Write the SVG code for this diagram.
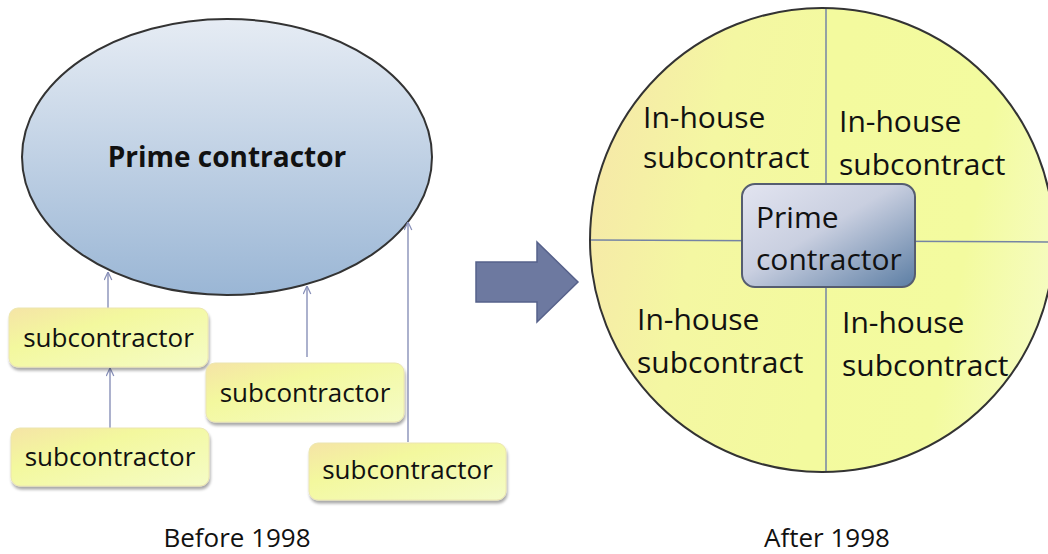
<svg xmlns="http://www.w3.org/2000/svg" width="1048" height="554" viewBox="0 0 1048 554">
  <defs>
    <linearGradient id="ellFill" x1="0" y1="0" x2="0" y2="1">
      <stop offset="0" stop-color="#e6ecf4"/>
      <stop offset="1" stop-color="#9ab6d5"/>
    </linearGradient>
    <linearGradient id="subFill" x1="0" y1="0" x2="1" y2="1">
      <stop offset="0" stop-color="#f5e4a6"/>
      <stop offset="0.35" stop-color="#f3f89e"/>
      <stop offset="1" stop-color="#f5fcc6"/>
    </linearGradient>
    <!-- left half: warm edge fading into yellow -->
    <linearGradient id="leftFill" x1="0" y1="0.3" x2="1" y2="0.7">
      <stop offset="0" stop-color="#f6e8a8"/>
      <stop offset="0.45" stop-color="#f4f7a2"/>
      <stop offset="1" stop-color="#f3fa9e"/>
    </linearGradient>
    <!-- right half: yellow brightening towards the rim -->
    <linearGradient id="rightFill" x1="0" y1="0.3" x2="1" y2="0.7">
      <stop offset="0" stop-color="#f3fa9e"/>
      <stop offset="0.6" stop-color="#f3fb9f"/>
      <stop offset="1" stop-color="#f6fcc4"/>
    </linearGradient>
    <linearGradient id="primeFill" x1="0" y1="0" x2="1" y2="1">
      <stop offset="0" stop-color="#e2e4f0"/>
      <stop offset="0.45" stop-color="#c9cfe0"/>
      <stop offset="1" stop-color="#5c7ea4"/>
    </linearGradient>
    <clipPath id="pieClip">
      <circle cx="822" cy="240" r="232"/>
    </clipPath>
    <filter id="shadow" x="-10%" y="-10%" width="125%" height="140%">
      <feGaussianBlur in="SourceAlpha" stdDeviation="1.5"/>
      <feOffset dx="1" dy="3" result="b"/>
      <feComponentTransfer><feFuncA type="linear" slope="0.35"/></feComponentTransfer>
      <feMerge><feMergeNode/><feMergeNode in="SourceGraphic"/></feMerge>
    </filter>
    <marker id="openArrow" viewBox="0 0 10 10" refX="10" refY="5" markerWidth="9" markerHeight="9" markerUnits="userSpaceOnUse" orient="auto">
      <path d="M1,0.8 L10,5 L1,9.2" fill="none" stroke="#8890b8" stroke-width="1.4"/>
    </marker>
  </defs>
  <style>
    .lbl { font-family: "Open Sans", "Liberation Sans", sans-serif; fill: #111; }
    .sub { fill: url(#subFill); stroke: #ece6b0; stroke-width: 1; filter: url(#shadow); }
    .sublbl { font-size: 26px; text-anchor: middle; }
    .quad { font-size: 30px; }
    .conn { stroke: #8890b8; stroke-width: 1.4; fill: none; marker-end: url(#openArrow); }
    .split { stroke: #7584a4; stroke-width: 1.5; }
  </style>

  <!-- Left: hierarchy before 1998 -->
  <g id="prime-ellipse">
    <ellipse cx="227" cy="157" rx="205" ry="138" fill="url(#ellFill)" stroke="#333" stroke-width="2"/>
    <text class="lbl" x="227" y="167" font-size="28" font-weight="bold" text-anchor="middle">Prime contractor</text>
  </g>

  <g id="connectors">
    <line class="conn" x1="110" y1="428" x2="110" y2="368"/>
    <line class="conn" x1="108" y1="308" x2="108" y2="272"/>
    <line class="conn" x1="307" y1="357" x2="307" y2="286"/>
    <line class="conn" x1="408" y1="442" x2="408" y2="222"/>
  </g>

  <g id="sub1">
    <rect class="sub" x="9" y="308" width="199" height="59" rx="9"/>
    <text class="lbl sublbl" x="108.5" y="347">subcontractor</text>
  </g>
  <g id="sub2">
    <rect class="sub" x="11" y="428" width="198" height="58" rx="9"/>
    <text class="lbl sublbl" x="110" y="466">subcontractor</text>
  </g>
  <g id="sub3">
    <rect class="sub" x="206" y="363" width="198" height="59" rx="9"/>
    <text class="lbl sublbl" x="305" y="402">subcontractor</text>
  </g>
  <g id="sub4">
    <rect class="sub" x="309" y="443" width="197" height="57" rx="9"/>
    <text class="lbl sublbl" x="407.5" y="479">subcontractor</text>
  </g>

  <text id="before" class="lbl" x="237" y="547" font-size="26" text-anchor="middle">Before 1998</text>

  <!-- Transition arrow -->
  <g id="transition-arrow">
    <polygon points="476,262 537,262 537,242 578,282 537,322 537,302 476,302" fill="#6d79a0" stroke="#56618a" stroke-width="1.5"/>
  </g>

  <!-- Right: in-house structure after 1998 -->
  <g id="inhouse-circle">
    <g clip-path="url(#pieClip)">
      <rect x="589" y="7" width="237" height="466" fill="url(#leftFill)"/>
      <rect x="826" y="7" width="230" height="466" fill="url(#rightFill)"/>
    </g>
    <circle cx="822" cy="240" r="232" fill="none" stroke="#333" stroke-width="2"/>
    <line class="split" x1="826" y1="9" x2="826" y2="471"/>
    <line class="split" x1="591" y1="240" x2="1048" y2="242"/>
  </g>

  <g id="quad-tl">
    <text class="lbl quad" x="643" y="128">In-house</text>
    <text class="lbl quad" x="643" y="168">subcontract</text>
  </g>
  <g id="quad-tr">
    <text class="lbl quad" x="839" y="132">In-house</text>
    <text class="lbl quad" x="839" y="175">subcontract</text>
  </g>
  <g id="quad-bl">
    <text class="lbl quad" x="637" y="330">In-house</text>
    <text class="lbl quad" x="637" y="373">subcontract</text>
  </g>
  <g id="quad-br">
    <text class="lbl quad" x="842" y="333">In-house</text>
    <text class="lbl quad" x="842" y="376">subcontract</text>
  </g>

  <g id="prime-box">
    <rect x="742" y="184" width="173" height="103" rx="13" fill="url(#primeFill)" stroke="#555d70" stroke-width="2"/>
    <text class="lbl" x="756" y="228" font-size="30">Prime</text>
    <text class="lbl" x="756" y="270" font-size="30">contractor</text>
  </g>

  <text id="after" class="lbl" x="827" y="547" font-size="26" text-anchor="middle">After 1998</text>
</svg>
